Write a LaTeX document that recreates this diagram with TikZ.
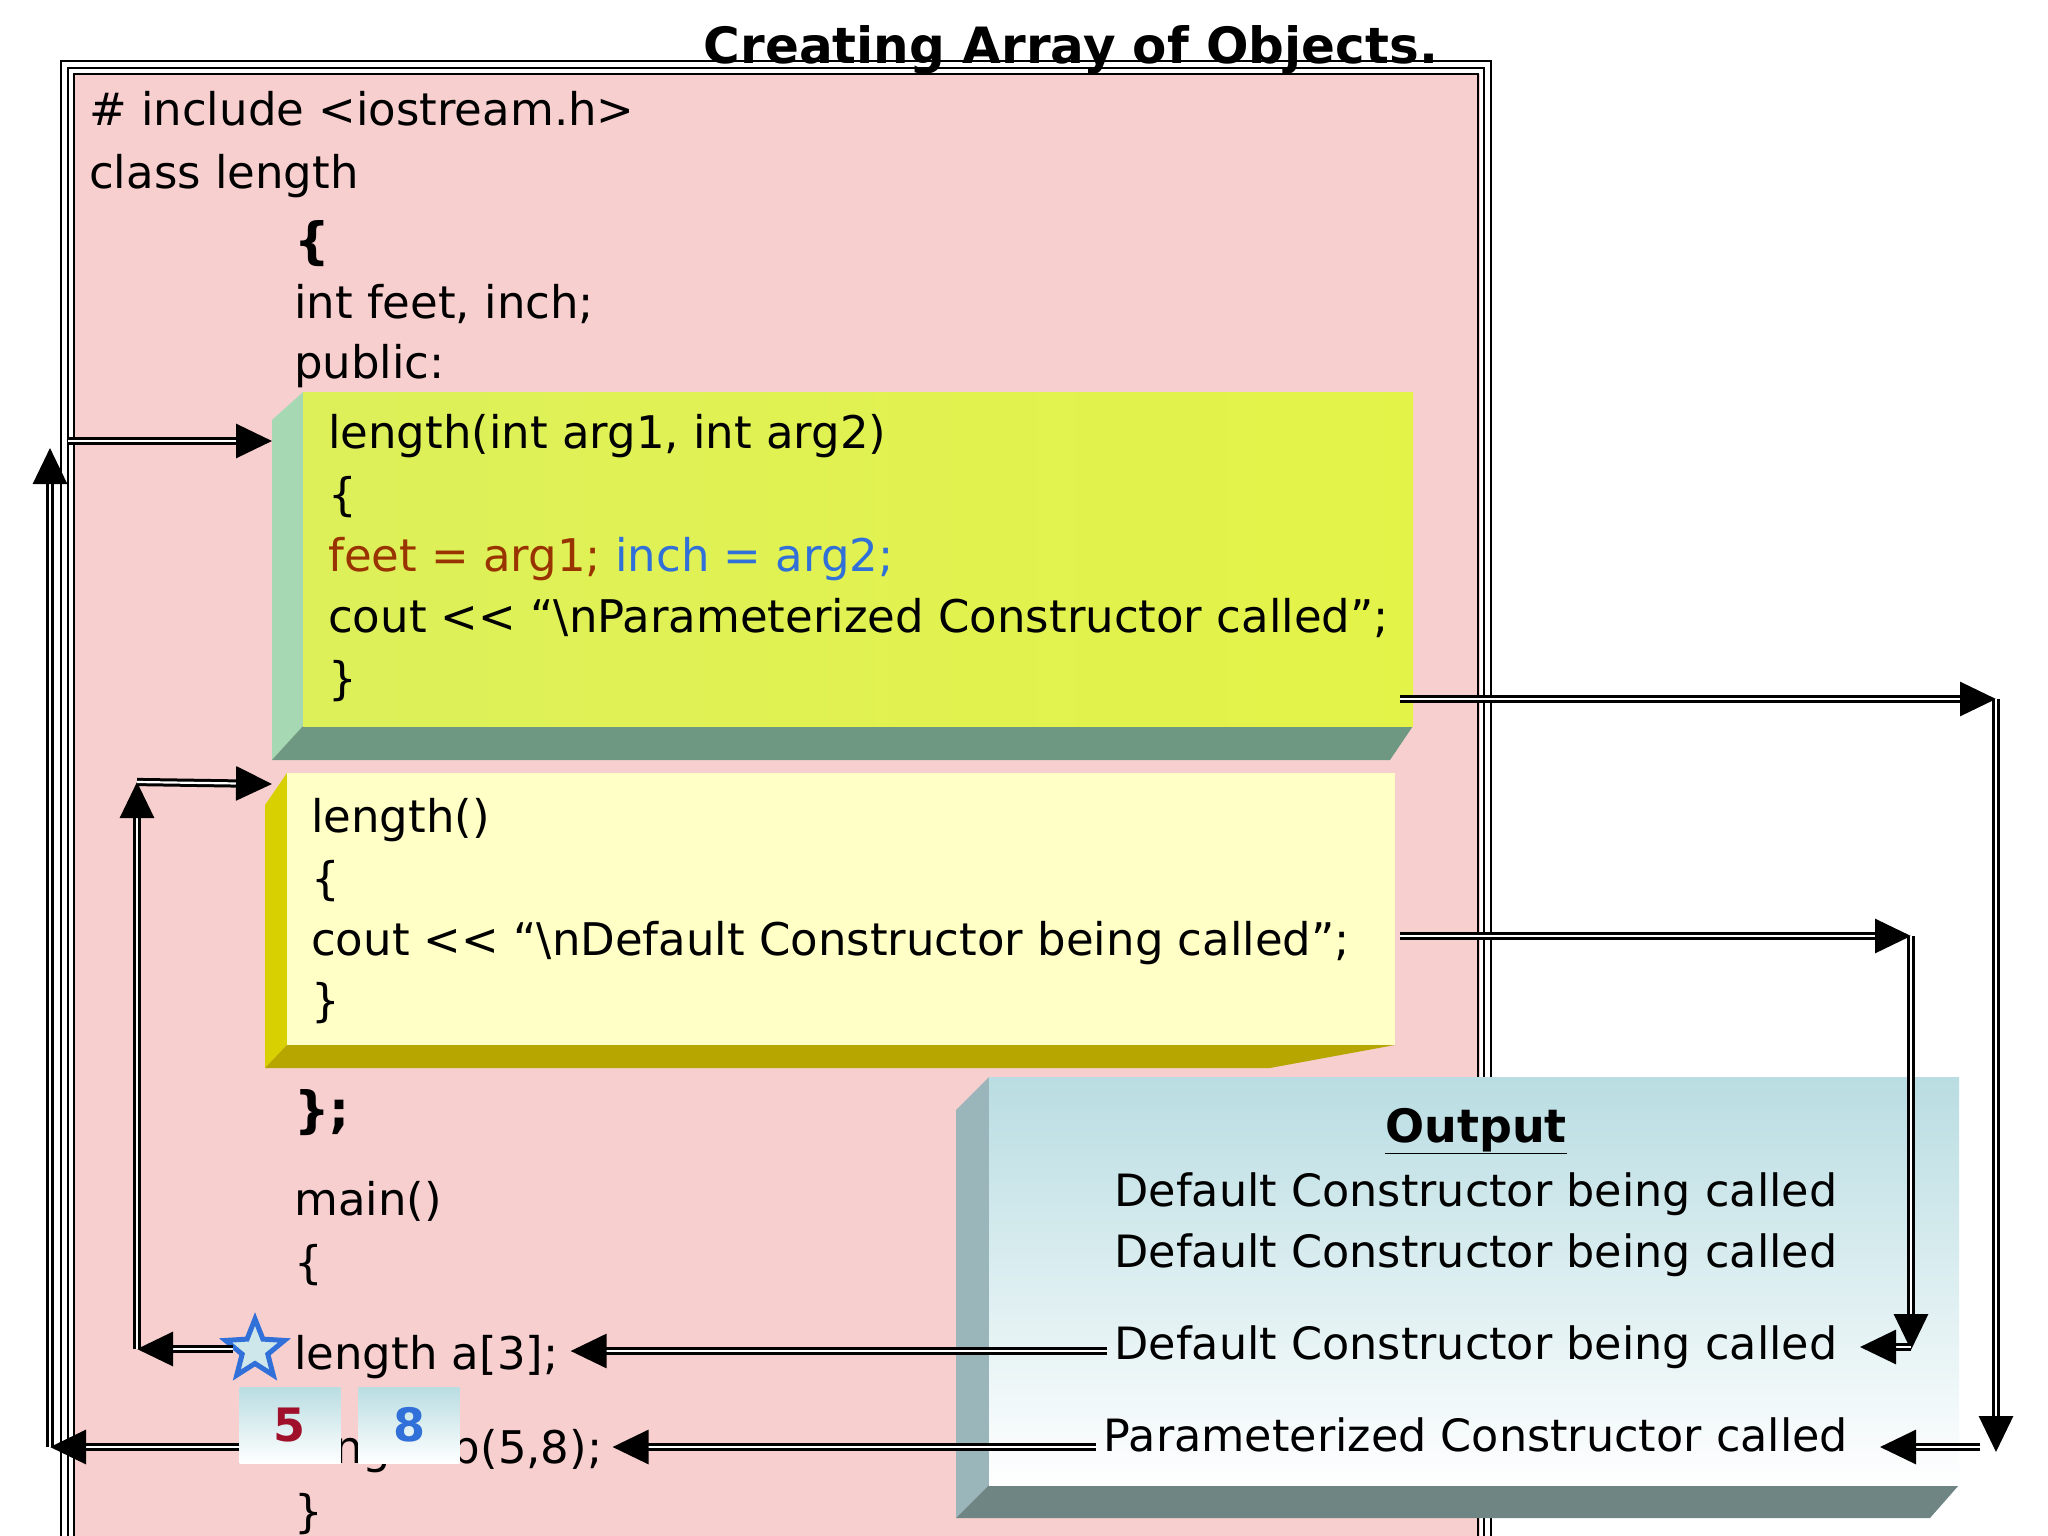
\documentclass[tikz,border=0pt]{standalone}
\usepackage{fontspec}
\setmainfont{DejaVu Sans}
\usetikzlibrary{arrows.meta,shapes.geometric,calc}
\definecolor{pinkbg}{HTML}{F8CFCF}
\definecolor{grn}{HTML}{DDF05A}
\definecolor{grnL}{HTML}{A6D8B4}
\definecolor{grnB}{HTML}{6F9882}
\definecolor{yel}{HTML}{FFFFC6}
\definecolor{yelL}{HTML}{D8D000}
\definecolor{yelB}{HTML}{B8A600}
\definecolor{outT}{HTML}{B9DDE2}
\definecolor{outL}{HTML}{9AB6BA}
\definecolor{outB}{HTML}{6E8584}
\definecolor{brn}{HTML}{993300}
\definecolor{blu}{HTML}{3070D8}
\definecolor{dred}{HTML}{A0102A}
\newcommand{\myshl}{{<}{<}}
\tikzset{
 code/.style={anchor=base west,inner sep=0pt,font=\fontsize{45}{50}\selectfont},
 outtxt/.style={anchor=base,inner sep=0pt,font=\fontsize{44.5}{50}\selectfont},
 dbl/.style={draw=black,line width=3pt,double=white,double distance=2.2pt,-{Triangle[length=36,width=34]}},
 numbox/.style={minimum width=101,minimum height=76,inner sep=0pt,top color=outT,bottom color=white,font=\fontsize{46}{46}\selectfont\bfseries}
}
\begin{document}
\begin{tikzpicture}[x=1pt,y=-1pt]
\useasboundingbox (0,0) rectangle (2048,1536);
\fill[white] (0,0) rectangle (2048,1536);
% frame
\fill[pinkbg] (74,74) rectangle (1480,1536);
\draw[line width=2pt] (61,1536) -- (61,61) -- (1491,61) -- (1491,1536);
\draw[line width=2pt] (68,1536) -- (68,68) -- (1484,68) -- (1484,1536);
\draw[line width=2pt] (74,1536) -- (74,74) -- (1478,74) -- (1478,1536);
\node[anchor=base,inner sep=0pt,font=\fontsize{50}{50}\selectfont\bfseries] (title) at (1071,64) {Creating Array of Objects.};
% code
\node[code] (inc) at (89,126) {\# include <iostream.h>};
\node[code] (cls) at (89,189) {class length};
\node[code,font=\fontsize{50}{50}\selectfont\bfseries] (ob) at (294,258) {\{};
\node[code] (intf) at (294,318) {int feet, inch;};
\node[code] (pub) at (294,378) {public:};
% green box
\fill[grnL] (272,420) -- (303,392) -- (303,726) -- (272,760) -- cycle;
\fill[grnB] (272,760) -- (303,726) -- (1413,726) -- (1390,760) -- cycle;
\shade[left color=grn,right color=grn!80!yellow] (303,392) rectangle (1413,726);
\coordinate (gL) at (272,441);
\coordinate (gR) at (1400,699);
\node[code] (g1) at (328,448) {length(int arg1, int arg2)};
\node[code] (g2) at (328,510) {\{};
\node[code] (g3) at (328,571) {\textcolor{brn}{feet = arg1;} \textcolor{blu}{inch = arg2;}};
\node[code] (g4) at (328,632) {cout \myshl{} “\textbackslash nParameterized Constructor called”;};
\node[code] (g5) at (328,694) {\}};
% yellow box
\fill[yelL] (265,805) -- (287,773) -- (287,1045) -- (265,1068) -- cycle;
\fill[yelB] (265,1068) -- (287,1045) -- (1395,1045) -- (1270,1068) -- cycle;
\fill[yel] (287,773) rectangle (1395,1045);
\coordinate (yL) at (272,784);
\coordinate (yR) at (1400,936);
\node[code] (y1) at (311,832) {length()};
\node[code] (y2) at (311,894) {\{};
\node[code] (y3) at (311,955) {cout \myshl{} “\textbackslash nDefault Constructor being called”;};
\node[code] (y4) at (311,1016) {\}};
\node[code,font=\fontsize{50}{50}\selectfont\bfseries] (cb) at (294,1127) {\};};
\node[code] (mn) at (294,1215) {main()};
\node[code] (mb) at (294,1278) {\{};
\node[code] (la) at (294,1369) {length a[3];};
\node[code] (lb) at (294,1463) {length b(5,8);};
\node[code] (me) at (294,1527) {\}};
% output box
\fill[outL] (956,1110) -- (989,1077) -- (989,1485) -- (956,1518) -- cycle;
\fill[outB] (956,1518) -- (989,1485) -- (1959,1485) -- (1930,1518) -- cycle;
\shade[top color=outT,bottom color=white] (989,1077) rectangle (1959,1485);
\node[outtxt,font=\fontsize{46}{46}\selectfont\bfseries] (ot) at (1476,1142) {\underline{Output}};
\node[outtxt] (o1) at (1476,1206) {Default Constructor being called};
\node[outtxt] (o2) at (1476,1267) {Default Constructor being called};
\node[outtxt] (o3) at (1476,1359) {Default Constructor being called};
\node[outtxt] (o4) at (1476,1451) {Parameterized Constructor called};
% star and number boxes
\node[star,star points=5,star point ratio=2.3,draw=blu,line width=5pt,fill=outT!70!white,minimum size=62,inner sep=0pt] (st) at (255,1350) {};
\node[numbox,text=dred] (n5) at (290,1425) {5};
\node[numbox,text=blu] (n8) at (409,1425) {8};
% arrows
\coordinate (pL) at (50,1447);
\coordinate (pT) at (50,448);
\coordinate (aL) at (137,1349);
\coordinate (aT) at (137,782);
\coordinate (gC) at (1996,699);
\coordinate (gD) at (1996,1452);
\coordinate (yC) at (1911,936);
\coordinate (yD) at (1911,1350);
\coordinate (o3w) at ($(o3.west |- 0,1351)+(-8,0)$);
\coordinate (o4w) at ($(o4.west |- 0,1447)+(-8,0)$);
\draw[dbl] (o3w) -- ($(o3w -| la.east)+(12,0)$);
\draw[dbl] (o4w) -- ($(o4w -| lb.east)+(10,0)$);
\draw[dbl] (st.west |- 0,1349) coordinate (stw) -- (aL);
\draw[dbl] (aL) -- (aT);
\draw[dbl] (aT) -- (yL);
\draw[dbl] (n5.west |- 0,1447) coordinate (n5w) -- (pL);
\draw[dbl] (pL) -- (pT);
\draw[dbl] (68,441) coordinate (gs) -- (gL);
\draw[dbl] (gR) -- (gC);
\draw[dbl] (gC) -- (gD);
\draw[dbl] (1980,1447) coordinate (gE) -- (1880,1447);
\draw[dbl] (yR) -- (yC);
\draw[dbl] (yC) -- (yD);
\draw[dbl] (1911,1347) coordinate (yE) -- (1860,1347);
\end{tikzpicture}
\end{document}
